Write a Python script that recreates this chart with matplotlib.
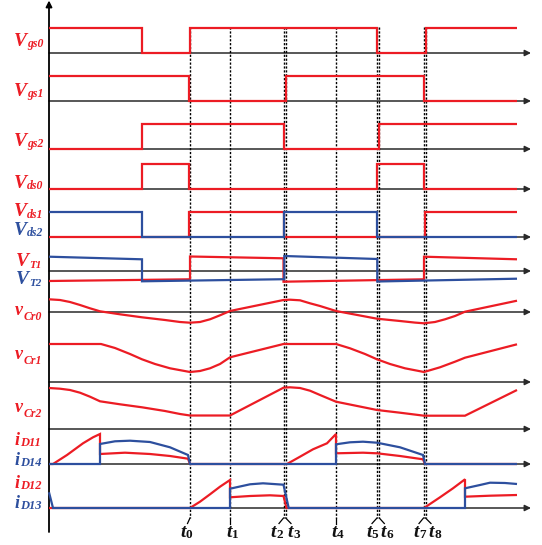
import matplotlib.pyplot as plt

RED = '#ec1c24'
BLUE = '#2d4f9e'
FONT = 'Liberation Serif'

# switching instants t0..t8 (time in drawing units along the x axis)
t_names = ['0', '1', '2', '3', '4', '5', '6', '7', '8']
t_instants = [190, 230, 283.5, 285.7, 336, 377, 379.3, 423.5, 425.5]

# gate signals
vgs0_t = [49, 141.7, 141.7, 190, 190, 377, 377, 425.5, 425.5, 517]
vgs0_v = [25, 25, 0, 0, 25, 25, 0, 0, 25, 25]
vgs1_t = [49, 188.5, 188.5, 285.7, 285.7, 423.5, 423.5, 517]
vgs1_v = [25, 25, 0, 0, 25, 25, 0, 0]
vgs2_t = [49, 142.3, 142.3, 283.5, 283.5, 379.3, 379.3, 517]
vgs2_v = [0, 0, 25, 25, 0, 0, 25, 25]

# drain-source voltages
vds0_t = [49, 142, 142, 188.7, 188.7, 377.3, 377.3, 424, 424, 517]
vds0_v = [0, 0, 25, 25, 0, 0, 25, 25, 0, 0]
vds1_t = [49, 189, 189, 283.5, 283.5, 424.5, 424.5, 517]
vds1_v = [0, 0, 25, 25, 0, 0, 25, 25]
vds2_t = [49, 142, 142, 284.3, 284.3, 377.3, 377.3, 517]
vds2_v = [25, 25, 0, 0, 25, 25, 0, 0]

# transformer voltages
vt1_t = [49, 190, 190, 283.5, 283.5, 424, 424, 517]
vt1_v = [-10, -8.3, 14.5, 12.7, -10.7, -8.3, 14.3, 11.7]
vt2_t = [49, 142, 142, 284.3, 284.3, 377.3, 377.3, 517]
vt2_v = [14.3, 11.7, -10.3, -8.2, 15, 12, -10.5, -7.7]

# resonant capacitor voltages
vcr0_t = [49, 60, 70, 80, 90, 100, 120, 142, 165, 180, 190, 200, 210, 220, 230,
          283.5, 290, 300, 310, 320, 336, 377, 400, 415, 424, 435, 445, 455, 465, 517]
vcr0_v = [12.7, 12, 10, 7, 3.7, 0.7, -2.3, -5.3, -8, -10, -10.7, -10, -7.3, -3.3, 1,
          12, 12.3, 11.7, 8.7, 6, 1, -6.7, -9, -10.6, -11.3, -10, -7.3, -4, 0.3, 11.3]
vcr1_t = [49, 101, 115, 130, 142, 155, 170, 190, 200, 210, 220, 230, 283.5, 336,
          350, 365, 377, 390, 405, 424, 440, 455, 465, 517]
vcr1_v = [38, 38, 34, 28, 22.7, 18, 13.7, 10, 11, 13.7, 18, 24.7, 38, 38,
          33.7, 28, 22.7, 18, 13.7, 10, 14.7, 20.3, 24.3, 37.7]
vcr2_t = [49, 60, 70, 80, 90, 100, 120, 142, 165, 180, 190, 230, 283.5, 290, 300,
          310, 320, 336, 377, 400, 424, 465, 517]
vcr2_v = [41, 40.3, 39, 36.3, 32.3, 27.7, 24.7, 21.7, 18, 15, 13.5, 13.5, 41.3, 41.7, 41,
          38.3, 34, 27.3, 19, 16.3, 13.3, 13.3, 39]

# rectifier diode currents
id11_t = [49, 53, 67, 83, 93, 100, 100, 125, 150, 170, 188, 190, 287, 300, 313, 327,
          336, 336, 363, 377, 400, 423, 425, 517]
id11_v = [0, 0, 9, 20.7, 26.7, 30, 10, 11.3, 10, 8, 5.3, 0, 0, 7.3, 14.7, 20.7,
          30, 10.7, 11.3, 10.7, 8, 4.7, 0, 0]
id14_t = [49, 100, 100, 115, 130, 150, 170, 188, 190, 336, 336, 350, 363, 377, 400, 423, 425, 517]
id14_v = [0, 0, 20, 22.7, 23.3, 22, 16.7, 9, 0, 0, 19.7, 21.7, 22.3, 21.3, 16.7, 9, 0, 0]
id12_t = [49, 190, 200, 210, 220, 230, 230, 250, 270, 283.5, 286.5, 424, 440, 453,
          465, 465, 490, 517]
id12_v = [0, 0, 6.3, 13.7, 21.3, 28, 10.7, 12, 12.7, 12, 0, 0, 10.7, 19.7,
          28.7, 11.3, 12.3, 13]
id13_t = [49, 53, 230, 230, 250, 263, 283.5, 288.7, 465, 465, 480, 490, 505, 517]
id13_v = [15.7, 0, 0, 19.3, 23.7, 24.7, 23.3, 0, 0, 19.7, 23, 25.3, 25, 24]

# layout (drawing units = pixels)
X_AXIS, X_ARROW = 49, 531
rows = [53, 101, 149, 189, 237, 271, 312, 382, 429, 464, 508]


def trace(ax, t, v, y0, color, z=3):
    ax.plot(t, [y0 - a for a in v], color=color, lw=1.6, zorder=z,
            solid_joinstyle='miter', solid_capstyle='butt')


def sub_text(ax, r, x, y, main, sub, color, size, subsize, drop,
             sub_style='italic', center=False):
    t1 = ax.text(x, y, main, color=color, fontsize=size, family=FONT,
                 weight='bold', style='italic', ha='left', va='baseline', zorder=6)
    t2 = ax.text(x, y + drop, sub, color=color, fontsize=subsize, family=FONT,
                 weight='bold', style=sub_style, ha='left', va='baseline', zorder=6)
    w1 = t1.get_window_extent(renderer=r).width
    w2 = t2.get_window_extent(renderer=r).width
    x0 = x - (w1 + w2) / 2 if center else x
    t1.set_x(x0)
    t2.set_x(x0 + w1 + 0.3)


fig = plt.figure(figsize=(5.42, 5.45), dpi=100)
ax = fig.add_axes([0, 0, 1, 1])
ax.set_xlim(0, 542)
ax.set_ylim(545, 0)
ax.axis('off')
r = fig.canvas.get_renderer()

# axes with arrows
for y0 in rows:
    ax.annotate('', xy=(X_ARROW, y0), xytext=(X_AXIS, y0),
                arrowprops=dict(arrowstyle='-|>', color='#2a2a2a', lw=1.1,
                                mutation_scale=9, shrinkA=0, shrinkB=0), zorder=1)
ax.annotate('', xy=(X_AXIS, 0.5), xytext=(X_AXIS, 532),
            arrowprops=dict(arrowstyle='-|>', color='k', lw=1.3,
                            mutation_scale=9, shrinkA=0, shrinkB=0), zorder=1)

# dotted instants and label leaders
leader_dx = [-2.5, 0, -4.5, 5.3, 0, -5, 5, -4.5, 5.5]
label_dx = [-4, 2, -7, 8, 1, -5, 7.5, -4, 9]
for tx, ld in zip(t_instants, leader_dx):
    ax.plot([tx, tx], [27, 518], color='k', lw=1.0, ls=(0, (1.6, 1.2)), zorder=2)
    ax.plot([tx, tx + ld], [518, 523.5], color='k', lw=0.9, zorder=2)
for name, tx, dx in zip(t_names, t_instants, label_dx):
    sub_text(ax, r, tx + dx, 537, 't', name, '#111111', 14, 9.5, 1.5,
             sub_style='normal', center=True)

# waveforms
trace(ax, vgs0_t, vgs0_v, rows[0], RED)
trace(ax, vgs1_t, vgs1_v, rows[1], RED)
trace(ax, vgs2_t, vgs2_v, rows[2], RED)
trace(ax, vds0_t, vds0_v, rows[3], RED)
trace(ax, vds1_t, vds1_v, rows[4], RED)
trace(ax, vds2_t, vds2_v, rows[4], BLUE, 4)
trace(ax, vt1_t, vt1_v, rows[5], RED)
trace(ax, vt2_t, vt2_v, rows[5], BLUE, 4)
trace(ax, vcr0_t, vcr0_v, rows[6], RED)
trace(ax, vcr1_t, vcr1_v, rows[7], RED)
trace(ax, vcr2_t, vcr2_v, rows[8], RED)
trace(ax, id11_t, id11_v, rows[9], RED)
trace(ax, id14_t, id14_v, rows[9], BLUE, 4)
trace(ax, id12_t, id12_v, rows[10], RED)
trace(ax, id13_t, id13_v, rows[10], BLUE, 4)

# signal names
names = [('V', 'gs0', 14, 46.5, RED), ('V', 'gs1', 14, 96.5, RED),
         ('V', 'gs2', 14, 146.5, RED), ('V', 'ds0', 14, 188, RED),
         ('V', 'ds1', 14, 216.5, RED), ('V', 'ds2', 14, 235, BLUE),
         ('V', 'T1', 16, 266, RED), ('V', 'T2', 16, 283.5, BLUE),
         ('v', 'Cr0', 15, 315, RED), ('v', 'Cr1', 15, 359, RED),
         ('v', 'Cr2', 15, 411.7, RED), ('i', 'D11', 15, 445, RED),
         ('i', 'D14', 15, 465, BLUE), ('i', 'D12', 15, 488.3, RED),
         ('i', 'D13', 15, 507.7, BLUE)]
for main, sub, x, y, c in names:
    if main == 'V' and sub.startswith('T'):
        sub_text(ax, r, x, y, main, sub, c, 14, 8, 2)
    elif main == 'V':
        sub_text(ax, r, x, y, main, sub, c, 14, 8.5, 1)
    elif main == 'v':
        sub_text(ax, r, x, y, main, sub, c, 13, 8.5, 5.5)
    else:
        sub_text(ax, r, x, y, main, sub, c, 13, 9, 1)

fig.savefig('out.png', dpi=100)
